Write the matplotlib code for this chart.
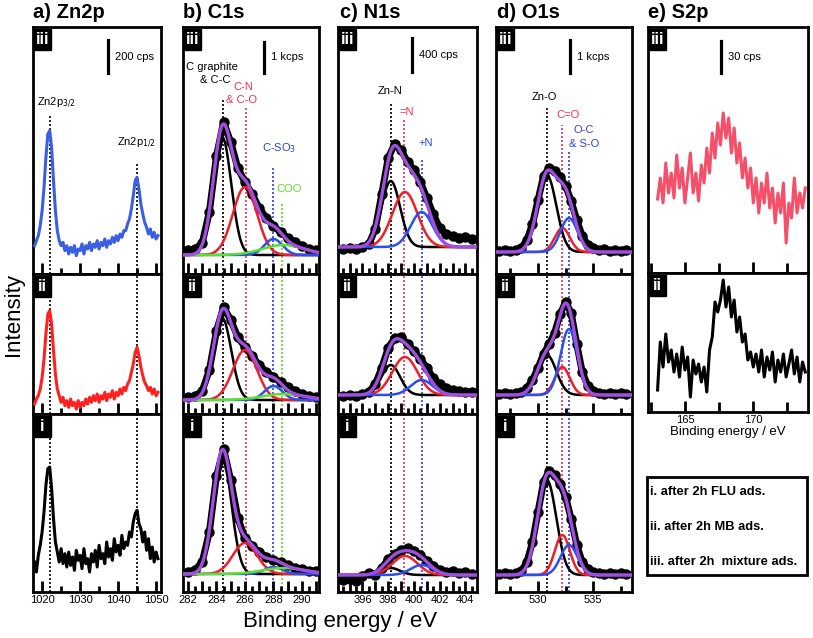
import numpy as np
import matplotlib
matplotlib.use("Agg")
import matplotlib.pyplot as plt
from matplotlib.patches import Rectangle
from matplotlib.lines import Line2D
from matplotlib.ticker import MultipleLocator, FuncFormatter

plt.rcParams['font.family'] = ['Liberation Sans', 'DejaVu Sans']

W, H = 813, 638

# ---------------- data ----------------
# a) Zn2p (cps), 0.5 eV steps
zn_energy = np.linspace(1018.0, 1050.5, 66)
zn_iii = [170, 200, 230, 290, 380, 520, 700, 840, 860, 760,
          560, 380, 260, 200, 170, 190, 140, 170, 120, 160,
          130, 170, 110, 150, 140, 180, 120, 170, 150, 190,
          140, 180, 160, 200, 150, 190, 170, 210, 160, 200,
          180, 220, 190, 230, 200, 240, 220, 260, 260, 300,
          330, 390, 470, 560, 580, 510, 420, 360, 310, 280,
          240, 270, 220, 250, 210, 230]
zn_ii = [60, 90, 110, 150, 220, 330, 480, 600, 620, 540,
         380, 240, 150, 110, 70, 100, 50, 80, 40, 90,
         50, 70, 30, 80, 40, 70, 50, 90, 60, 100,
         70, 110, 80, 120, 70, 110, 90, 130, 80, 120,
         100, 140, 90, 130, 110, 150, 120, 160, 140, 180,
         200, 250, 300, 370, 400, 350, 280, 230, 190, 170,
         140, 160, 120, 150, 110, 130]
zn_i = [180, 120, 220, 280, 360, 480, 640, 740, 750, 620,
        440, 300, 240, 180, 260, 170, 230, 150, 240, 160,
        210, 130, 250, 190, 220, 140, 260, 170, 200, 120,
        230, 180, 250, 150, 280, 200, 230, 170, 300, 210,
        260, 190, 320, 240, 280, 220, 340, 260, 300, 280,
        360, 330, 420, 470, 490, 410, 380, 300, 360, 250,
        320, 200, 270, 180, 240, 200]
zn_lines = [1022.0, 1045.0]

# b) C1s (a.u.)
c_energy = np.linspace(282.0, 291.0, 19)
c_iii = [24, 25, 31, 62, 118, 152, 132, 106, 92, 80, 66, 56, 48, 42, 36, 32, 28, 25, 24]
c_ii = [17, 18, 23, 44, 83, 107, 94, 77, 67, 58, 49, 42, 37, 32, 27, 23, 20, 18, 17]
c_i = [20, 22, 30, 60, 116, 143, 112, 74, 54, 46, 40, 35, 32, 30, 27, 24, 23, 21, 21]
c_centers = [284.4, 286.0, 288.0, 288.7]
c_fwhm = [1.5, 2.0, 1.5, 3.5]
c_heights = {"iii": [118, 68, 16, 10], "ii": [82, 50, 14, 6], "i": [119, 31, 7, 6]}
c_base = {"iii": 19, "ii": 14, "i": 18}
c_lines = [284.45, 286.1, 288.0, 288.6]

# c) N1s (a.u.)
n_energy = np.linspace(394.5, 404.5, 21)
n_iii = [25, 26, 25, 27, 30, 45, 80, 116, 130, 124, 112, 104, 92, 76, 60, 46, 40, 38, 36, 37, 35]
n_ii = [18, 19, 18, 20, 22, 30, 46, 66, 76, 77, 70, 63, 55, 46, 36, 30, 26, 24, 23, 22, 22]
n_i = [12, 13, 11, 16, 19, 17, 24, 33, 38, 42, 44, 41, 37, 31, 26, 22, 20, 21, 19, 20, 18]
n_centers = [398.2, 399.3, 400.6]
n_fwhm = [1.7, 2.3, 2.0]
n_heights = {"iii": [66, 55, 35], "ii": [30, 38, 15], "i": [7, 19, 10]}
n_base = {"iii": 27, "ii": 19, "i": 17}
n_lines = [398.2, 399.2, 400.6]

# d) O1s (a.u.)
o_energy = np.linspace(526.5, 538.0, 24)
o_iii = [23, 24, 23, 24, 26, 34, 50, 74, 98, 106, 103, 97, 88, 73, 54, 38, 29, 26, 24, 25, 23, 24, 23, 24]
o_ii = [20, 21, 20, 21, 22, 26, 34, 46, 60, 70, 81, 100, 112, 101, 70, 42, 28, 23, 21, 20, 21, 20, 21, 20]
o_i = [18, 19, 18, 19, 21, 30, 50, 80, 110, 121, 117, 108, 95, 73, 47, 30, 23, 20, 19, 18, 19, 18, 19, 18]
o_centers = [530.8, 532.2, 532.8]
o_fwhm = [2.0, 1.6, 1.8]
o_heights = {"iii": [77, 24, 34], "ii": [40, 28, 66], "i": [95, 40, 30]}
o_base = {"iii": 22, "ii": 19, "i": 17}
o_lines = [530.8, 532.2, 532.8]

# e) S2p (a.u.)
s_energy = np.linspace(163.0, 173.8, 55)
s_iii = [74, 95, 70, 110, 80, 100, 75, 118, 85, 105,
         70, 95, 120, 80, 100, 72, 108, 90, 125, 100,
         140, 115, 150, 128, 160, 135, 155, 120, 145, 110,
         130, 95, 115, 85, 105, 70, 95, 60, 90, 70,
         100, 65, 85, 50, 80, 60, 90, 30, 70, 55,
         95, 60, 80, 65, 85]
s_ii = [22, 70, 45, 78, 50, 62, 40, 58, 35, 65,
        42, 55, 15, 52, 38, 48, 30, 45, 20, 62,
        75, 110, 100, 112, 132, 105, 125, 95, 112, 80,
        95, 70, 78, 52, 60, 45, 58, 40, 62, 35,
        55, 42, 60, 30, 52, 40, 58, 35, 48, 62,
        38, 55, 30, 50, 40]

legend_lines = ["i. after 2h FLU ads.", "ii. after 2h MB ads.", "iii. after 2h  mixture ads."]

# ---------------- style ----------------
PURPLE = "#a04ee0"
RED = "#f01e28"
BLUE = "#2850f0"
GREEN = "#5ee02a"
comp_colors = ["black", RED, BLUE, GREEN]
txt_red = "#f0304a"
txt_blue = "#3040e0"
txt_green = "#60e030"
line_cols = ["black", "#e8305a", "#2a40ee", "#55dd22"]

fig = plt.figure(figsize=(W / 100, H / 100), dpi=100)


def add_ax(x0, y0, x1, y1):
    return fig.add_axes([x0 / W, 1 - y1 / H, (x1 - x0) / W, (y1 - y0) / H])


def ftext(x, y, s, **kw):
    kw.setdefault("fontsize", 8)
    kw.setdefault("va", "center")
    fig.text(x / W, 1 - y / H, s, **kw)


def style_ax(ax, xlim, ylim, major, minor, fmt, show_labels, minor_len=4):
    ax.set_xlim(*xlim)
    ax.set_ylim(*ylim)
    ax.set_yticks([])
    for sp in ax.spines.values():
        sp.set_linewidth(2)
    ax.xaxis.set_major_locator(MultipleLocator(major))
    ax.xaxis.set_minor_locator(MultipleLocator(minor))
    ax.xaxis.set_major_formatter(FuncFormatter(fmt))
    ax.tick_params(axis="x", which="major", direction="in", length=8, width=2,
                   labelsize=8, pad=2, labelbottom=show_labels)
    ax.tick_params(axis="x", which="minor", direction="in", length=minor_len, width=2)


def roman(ax, s):
    bb = ax.get_position()
    w = 17 / W / bb.width
    h = 21 / H / bb.height
    x0 = 1 / W / bb.width
    y0 = 1 - 2 / H / bb.height
    ax.add_patch(Rectangle((x0, y0 - h), w, h, transform=ax.transAxes,
                           color="black", zorder=10, clip_on=False))
    ax.text(x0 + w / 2, y0 - h / 2, s, transform=ax.transAxes, color="white",
            ha="center", va="center", fontsize=12, fontweight="bold", zorder=11)


def scale_bar(x, y0, y1, label):
    fig.add_artist(Line2D([x / W, x / W], [1 - y0 / H, 1 - y1 / H],
                          transform=fig.transFigure, color="black", lw=2.3))
    ftext(x + 7, (y0 + y1) / 2, label, fontsize=8)


def gauss(x, c, h, w):
    return h * np.exp(-4 * np.log(2) * (x - c) ** 2 / w ** 2)


def draw_fit(ax, energy, data, base, centers, heights, fwhms):
    ax.plot(energy, data, color="black", lw=5, marker="o", ms=6.5, zorder=2)
    xs = np.linspace(ax.get_xlim()[0], ax.get_xlim()[1], 400)
    total = np.full_like(xs, float(base))
    for c, h, w, col in zip(centers, heights, fwhms, comp_colors):
        g = gauss(xs, c, h, w)
        total += g
        ax.plot(xs, base + g, color=col, lw=1.8, zorder=3)
    ax.plot(xs, total, color=PURPLE, lw=2.4, zorder=4)


def vlines(ax, xs, tops=None, row_top=None, row_bottom=None):
    for k, x in enumerate(xs):
        ymax = 1.0
        if tops is not None:
            ymax = (row_bottom - tops[k]) / (row_bottom - row_top)
        ax.axvline(x, ymin=0, ymax=ymax, color=line_cols[k] if len(xs) > 2 else "black",
                   lw=1.2, ls=(0, (1.2, 1.2)), zorder=1)


rows = [("iii", 27, 274), ("ii", 274, 414), ("i", 414, 592)]
int_fmt = lambda v, p: f"{v:.0f}"
even_fmt = lambda v, p: f"{v:.0f}" if int(round(v)) % 2 == 0 else ""

# ---------------- a) Zn2p ----------------
zn_sets = {"iii": (zn_iii, "#3a5fe0"), "ii": (zn_ii, "#ff2020"), "i": (zn_i, "black")}
for name, y0, y1 in rows:
    ax = add_ax(33, y0, 161, y1)
    style_ax(ax, (1017.6, 1051.3), (0, (y1 - y0) * 6), 10, 5, int_fmt, name == "i")
    vals, col = zn_sets[name]
    if name == "iii":
        vlines(ax, zn_lines, tops=[116, 162], row_top=y0, row_bottom=y1)
    else:
        vlines(ax, zn_lines)
    ax.plot(zn_energy, vals, color=col, lw=2.2, zorder=3)
    roman(ax, name)

# ---------------- b) C1s ----------------
c_sets = {"iii": c_iii, "ii": c_ii, "i": c_i}
for name, y0, y1 in rows:
    ax = add_ax(183, y0, 319, y1)
    style_ax(ax, (281.65, 291.2), (0, y1 - y0), 1, 0.5, even_fmt, name == "i")
    if name == "iii":
        vlines(ax, c_lines, tops=[100, 107, 168, 202], row_top=y0, row_bottom=y1)
    else:
        vlines(ax, c_lines)
    draw_fit(ax, c_energy, c_sets[name], c_base[name], c_centers, c_heights[name], c_fwhm)
    roman(ax, name)

# ---------------- c) N1s ----------------
n_sets = {"iii": n_iii, "ii": n_ii, "i": n_i}
for name, y0, y1 in rows:
    ax = add_ax(338, y0, 477, y1)
    style_ax(ax, (394.1, 404.9), (0, y1 - y0), 1, 0.5, even_fmt, name == "i")
    if name == "iii":
        vlines(ax, n_lines, tops=[103, 120, 160], row_top=y0, row_bottom=y1)
    else:
        vlines(ax, n_lines)
    draw_fit(ax, n_energy, n_sets[name], n_base[name], n_centers, n_heights[name], n_fwhm)
    roman(ax, name)

# ---------------- d) O1s ----------------
o_sets = {"iii": o_iii, "ii": o_ii, "i": o_i}
for name, y0, y1 in rows:
    ax = add_ax(496, y0, 632, y1)
    style_ax(ax, (526.2, 538.5), (0, y1 - y0), 5, 2.5, int_fmt, name == "i")
    if name == "iii":
        vlines(ax, o_lines, tops=[108, 125, 152], row_top=y0, row_bottom=y1)
    else:
        vlines(ax, o_lines)
    draw_fit(ax, o_energy, o_sets[name], o_base[name], o_centers, o_heights[name], o_fwhm)
    roman(ax, name)

# ---------------- e) S2p ----------------
s_rows = [("iii", 27, 273, s_iii, "#f5506a"), ("ii", 273, 412, s_ii, "black")]
for name, y0, y1, vals, col in s_rows:
    ax = add_ax(648, y0, 808, y1)
    style_ax(ax, (162.3, 174.0), (0, y1 - y0), 5, 2.5, int_fmt, name == "ii", minor_len=7)
    ax.plot(s_energy, vals, color=col, lw=2.2, zorder=3)
    roman(ax, name)
    if name == "ii":
        ax.set_xlabel("Binding energy / eV", fontsize=9.5, labelpad=1)

# ---------------- annotations ----------------
for x, s in [(33, "a) Zn2p"), (183, "b) C1s"), (340, "c) N1s"), (497, "d) O1s"), (648, "e) S2p")]:
    ftext(x, 13, s, fontsize=14.5, fontweight="bold")

scale_bar(108, 40, 73, "200 cps")
scale_bar(264, 42, 73, "1 kcps")
scale_bar(412, 38, 72, "400 cps")
scale_bar(570, 40, 73, "1 kcps")
scale_bar(721, 41, 73, "30 cps")

ftext(37, 103, r"Zn2p$_{3/2}$")
ftext(117, 143, r"Zn2p$_{1/2}$")
ftext(186, 67, "C graphite")
ftext(200, 80, "& C-C")
ftext(233, 87, "C-N", color=txt_red)
ftext(226, 100, "& C-O", color=txt_red)
ftext(262, 148, r"C-SO$_3$", color=txt_blue)
ftext(276, 189, "COO", color=txt_green)
ftext(378, 91, "Zn-N")
ftext(399, 112, "=N", color=txt_red)
ftext(418, 143, "+N", color=txt_blue)
ftext(532, 97, "Zn-O")
ftext(556, 115, "C=O", color=txt_red)
ftext(573, 130, "O-C", color=txt_blue)
ftext(569, 144, "& S-O", color=txt_blue)

ftext(14, 315, "Intensity", fontsize=16, rotation=90, ha="center")
ftext(340, 622, "Binding energy / eV", fontsize=16, ha="center")

# legend box
fig.add_artist(Rectangle((647 / W, 1 - 575 / H), 160 / W, 98 / H, transform=fig.transFigure,
                         fill=False, lw=2, color="black"))
for k, s in enumerate(legend_lines):
    ftext(650, 492 + 35 * k, s, fontsize=9.3, fontweight="bold")

fig.savefig("out.png", dpi=100)
